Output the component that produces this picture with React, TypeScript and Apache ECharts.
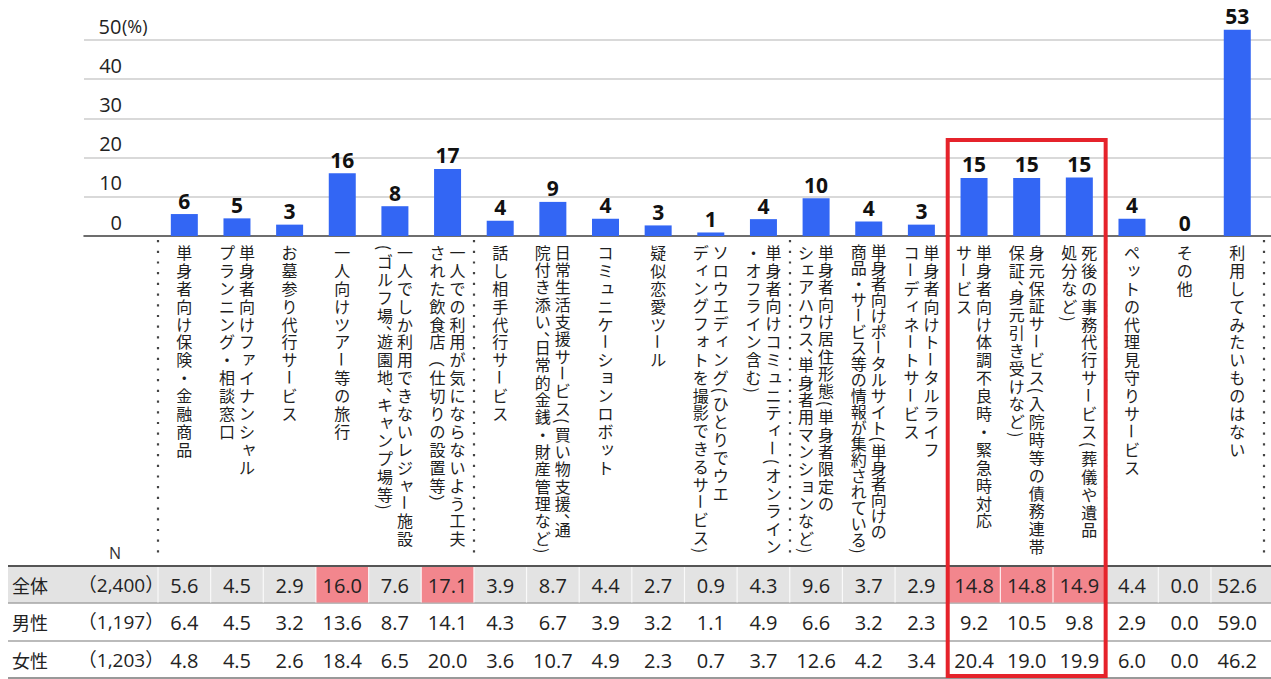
import React, { useEffect, useRef } from 'react';
import * as echarts from 'echarts';

// Survey items (line breaks mark the vertical label columns, right to left)
const categories: string[] = [
  '単身者向け保険・金融商品',
  '単身者向けファイナンシャル\nプランニング・相談窓口',
  'お墓参り代行サービス',
  '一人向けツアー等の旅行',
  '一人でしか利用できないレジャー施設\n(ゴルフ場、遊園地、キャンプ場等)',
  '一人での利用が気にならないよう工夫\nされた飲食店（仕切りの設置等）',
  '話し相手代行サービス',
  '日常生活支援サービス(買い物支援、通\n院付き添い、日常的金銭・財産管理など)',
  'コミュニケーションロボット',
  '疑似恋愛ツール',
  'ソロウエディング(ひとりでウエ\nディングフォトを撮影できるサービス)',
  '単身者向けコミュニティー(オンライン\n・オフライン含む)',
  '単身者向け居住形態(単身者限定の\nシェアハウス、単身者用マンションなど)',
  '単身者向けポータルサイト(単身者向けの\n商品・サービス等の情報が集約されている)',
  '単身者向けトータルライフ\nコーディネートサービス',
  '単身者向け体調不良時・緊急時対応\nサービス',
  '身元保証サービス(入院時等の債務連帯\n保証、身元引き受けなど)',
  '死後の事務代行サービス(葬儀や遺品\n処分など)',
  'ペットの代理見守りサービス',
  'その他',
  '利用してみたいものはない',
];

// Percentages per respondent group
const totalValues: number[] = [5.6, 4.5, 2.9, 16.0, 7.6, 17.1, 3.9, 8.7, 4.4, 2.7, 0.9, 4.3, 9.6, 3.7, 2.9, 14.8, 14.8, 14.9, 4.4, 0.0, 52.6];
const maleValues: number[] = [6.4, 4.5, 3.2, 13.6, 8.7, 14.1, 4.3, 6.7, 3.9, 3.2, 1.1, 4.9, 6.6, 3.2, 2.3, 9.2, 10.5, 9.8, 2.9, 0.0, 59.0];
const femaleValues: number[] = [4.8, 4.5, 2.6, 18.4, 6.5, 20.0, 3.6, 10.7, 4.9, 2.3, 0.7, 3.7, 12.6, 4.2, 3.4, 20.4, 19.0, 19.9, 6.0, 0.0, 46.2];

const rowNames: string[] = ['全体', '男性', '女性'];
const sampleSizes: number[] = [2400, 1197, 1203];

// Cells of the total row shaded pink
const highlightedIdx: number[] = [3, 5, 15, 16, 17];
// Framed group of items: [first index, last index, top value]
const focusGroup: number[][] = [[15, 17, 24.5]];

const yTicks: number[] = [0, 10, 20, 30, 40, 50];

const JP = "'Noto Sans CJK JP', sans-serif";
const NUM = "'Open Sans', 'Noto Sans CJK JP', sans-serif";
const BLUE = '#3366f4';
const PINK = '#f2868d';
const RED = '#e5232b';

// vertical label typesetting
const FS = 16;
const MAX_PITCH = 17.9;
const LABEL_SPAN = 312;
const LABEL_TOP = 243;
const COL_GAP = 20;
const HALF = new Set(['(', ')', '、']);
const ROTATE = new Set(['ー', '(', ')', '（', '）']);
const SMALL = new Set(['ャ', 'ュ', 'ョ', 'ッ', 'ィ', 'ェ', 'ォ', 'ァ', 'ゃ', 'ゅ', 'ょ', 'っ']);

// table layout
const TABLE_LEFT = 8;
const TABLE_RIGHT = 1271;
const ROW_LINES = [566, 603, 641, 678];
const ROW_CENTERS = [585, 622, 660];

function buildOption(): any {
  const labelSeries = {
    type: 'custom',
    xAxisIndex: 0,
    yAxisIndex: 0,
    silent: true,
    z: 5,
    data: categories.map((_, i) => [i, 0]),
    encode: { x: 0, y: 1 },
    renderItem: (params: any, api: any) => {
      const i = params.dataIndex;
      const cx = api.coord([i, 0])[0];
      const lines = categories[i].split('\n');
      const units = lines.map((l) => [...l].reduce((s, c) => s + (HALF.has(c) ? 0.5 : 1), 0));
      const pitch = Math.min(MAX_PITCH, LABEL_SPAN / Math.max(...units));
      const children: any[] = [];
      lines.forEach((line, j) => {
        const colX = cx + ((lines.length - 1) / 2 - j) * COL_GAP;
        let y = LABEL_TOP;
        for (const ch of line) {
          const h = (HALF.has(ch) ? 0.5 : 1) * pitch;
          let dx = 0;
          let dy = 0;
          if (ch === '、') {
            dx = 0.55 * FS;
            dy = -0.4 * FS;
          } else if (SMALL.has(ch)) {
            dx = 0.12 * FS;
            dy = -0.12 * FS;
          }
          children.push({
            type: 'text',
            x: colX + dx,
            y: y + h / 2 + dy,
            rotation: ROTATE.has(ch) ? -Math.PI / 2 : 0,
            style: {
              text: ch,
              fontSize: FS,
              fontFamily: JP,
              fill: '#1e1e1e',
              align: 'center',
              verticalAlign: 'middle',
            },
          });
          y += h;
        }
      });
      return { type: 'group', children };
    },
  };

  const tableSeries = {
    type: 'custom',
    xAxisIndex: 0,
    yAxisIndex: 0,
    silent: true,
    z: 5,
    data: totalValues.map((v, i) => [i, v, maleValues[i], femaleValues[i]]),
    encode: { x: 0, y: 1 },
    renderItem: (params: any, api: any) => {
      const i = params.dataIndex;
      const cx = api.coord([i, 0])[0];
      const band = api.size([1, 0])[0];
      const x0 = cx - band / 2;
      const children: any[] = [];
      if (highlightedIdx.includes(i)) {
        children.push({
          type: 'rect',
          shape: { x: x0, y: ROW_LINES[0] + 1, width: band, height: ROW_LINES[1] - ROW_LINES[0] - 1.5 },
          style: { fill: PINK },
        });
      }
      children.push({
        type: 'line',
        shape: { x1: x0, y1: ROW_LINES[0] + 1, x2: x0, y2: ROW_LINES[1] - 0.5 },
        style: { stroke: '#ffffff', lineWidth: 1.2, opacity: 0.8 },
      });
      [1, 2, 3].forEach((d, r) => {
        children.push({
          type: 'text',
          x: cx,
          y: ROW_CENTERS[r],
          style: {
            text: (api.value(d) as number).toFixed(1),
            fontSize: 20,
            fontFamily: NUM,
            fill: '#222',
            align: 'center',
            verticalAlign: 'middle',
          },
        });
      });
      return { type: 'group', children };
    },
  };

  const focusSeries = {
    type: 'custom',
    xAxisIndex: 0,
    yAxisIndex: 0,
    silent: true,
    z: 10,
    data: focusGroup,
    encode: { x: [0, 1], y: 2 },
    renderItem: (params: any, api: any) => {
      const band = api.size([1, 0])[0];
      const xa = api.coord([api.value(0), 0])[0] - band / 2;
      const xb = api.coord([api.value(1), 0])[0] + band / 2;
      const yt = api.coord([api.value(0), api.value(2)])[1];
      return {
        type: 'rect',
        shape: { x: xa, y: yt, width: xb - xa, height: 676 - yt },
        style: { fill: 'none', stroke: RED, lineWidth: 4 },
      };
    },
  };

  const graphic: any[] = [
    {
      type: 'rect',
      z: 0,
      shape: { x: TABLE_LEFT, y: ROW_LINES[0], width: TABLE_RIGHT - TABLE_LEFT, height: ROW_LINES[1] - ROW_LINES[0] },
      style: { fill: '#e3e3e3' },
    },
    ...ROW_LINES.map((y, k) => ({
      type: 'line',
      z: 1,
      shape: { x1: TABLE_LEFT, y1: y, x2: TABLE_RIGHT, y2: y },
      style: {
        stroke: k === 0 ? '#555' : k === ROW_LINES.length - 1 ? '#777' : '#a5a5a5',
        lineWidth: k === 0 ? 2 : 1.3,
      },
    })),
    {
      type: 'text',
      z: 2,
      x: 115,
      y: 553,
      style: { text: 'N', fontSize: 16, fontFamily: NUM, fill: '#333', align: 'center', verticalAlign: 'middle' },
    },
    ...rowNames.map((name, r) => ({
      type: 'text',
      z: 2,
      x: 12,
      y: ROW_CENTERS[r],
      style: { text: name, fontSize: 18, fontFamily: JP, fill: '#222', align: 'left', verticalAlign: 'middle' },
    })),
    ...sampleSizes.map((n, r) => ({
      type: 'text',
      z: 2,
      x: 121,
      y: ROW_CENTERS[r],
      style: {
        text: `（${n.toLocaleString('en-US')}）`,
        fontSize: 19,
        fontFamily: NUM,
        fill: '#222',
        align: 'center',
        verticalAlign: 'middle',
      },
    })),
  ];

  return {
    animation: false,
    backgroundColor: '#ffffff',
    grid: [
      { left: 158, width: 1105.6, top: 40, height: 196 },
      { left: 84, right: 0, top: 40, height: 196 },
    ],
    xAxis: [
      {
        type: 'category',
        gridIndex: 0,
        data: categories,
        boundaryGap: true,
        axisLine: { show: false },
        axisLabel: { show: false },
        axisTick: {
          show: true,
          length: 318,
          lineStyle: { color: '#444', width: 2.2, type: [2.2, 8.5], dashOffset: -4 },
        },
        splitLine: { show: false },
      },
      {
        type: 'value',
        gridIndex: 1,
        min: 0,
        max: 1,
        axisLine: { show: true, onZero: false, lineStyle: { color: '#4a4a4a', width: 1.6 } },
        axisTick: { show: false },
        axisLabel: { show: false },
        splitLine: { show: false },
      },
    ],
    yAxis: [
      { type: 'value', gridIndex: 0, min: yTicks[0], max: yTicks[yTicks.length - 1], interval: 10, show: false },
      {
        type: 'value',
        gridIndex: 1,
        min: yTicks[0],
        max: yTicks[yTicks.length - 1],
        interval: 10,
        axisLine: { show: false },
        axisTick: { show: false },
        splitLine: { show: true, lineStyle: { color: '#cccccc', width: 1.5 } },
        axisLabel: {
          inside: true,
          margin: 14,
          verticalAlign: 'bottom',
          formatter: (v: number) => (v === 50 ? `{n|${v}}{u|(%)}` : `{n|${v}}`),
          rich: {
            n: { width: 24, align: 'right', fontSize: 20, lineHeight: 28, fontFamily: NUM, color: '#222' },
            u: { fontSize: 18, lineHeight: 28, fontFamily: NUM, color: '#222' },
          },
        },
      },
    ],
    graphic,
    series: [
      {
        type: 'bar',
        xAxisIndex: 0,
        yAxisIndex: 0,
        data: totalValues,
        barWidth: 27,
        clip: false,
        z: 3,
        itemStyle: { color: BLUE },
        label: {
          show: true,
          position: 'top',
          distance: 3,
          formatter: (p: any) => String(Math.round(p.value)),
          fontFamily: NUM,
          fontWeight: 'bold',
          fontSize: 21,
          color: '#111',
        },
      },
      labelSeries,
      tableSeries,
      focusSeries,
    ],
  };
}

export default function App() {
  const ref = useRef<HTMLDivElement>(null);
  useEffect(() => {
    if (!ref.current) return;
    const chart = echarts.init(ref.current, null, { renderer: 'svg' });
    chart.setOption(buildOption());
    return () => chart.dispose();
  }, []);
  return (
    <div
      ref={ref}
      style={{ position: 'fixed', left: 0, top: 0, width: 1271, height: 679, background: '#fff' }}
    />
  );
}
